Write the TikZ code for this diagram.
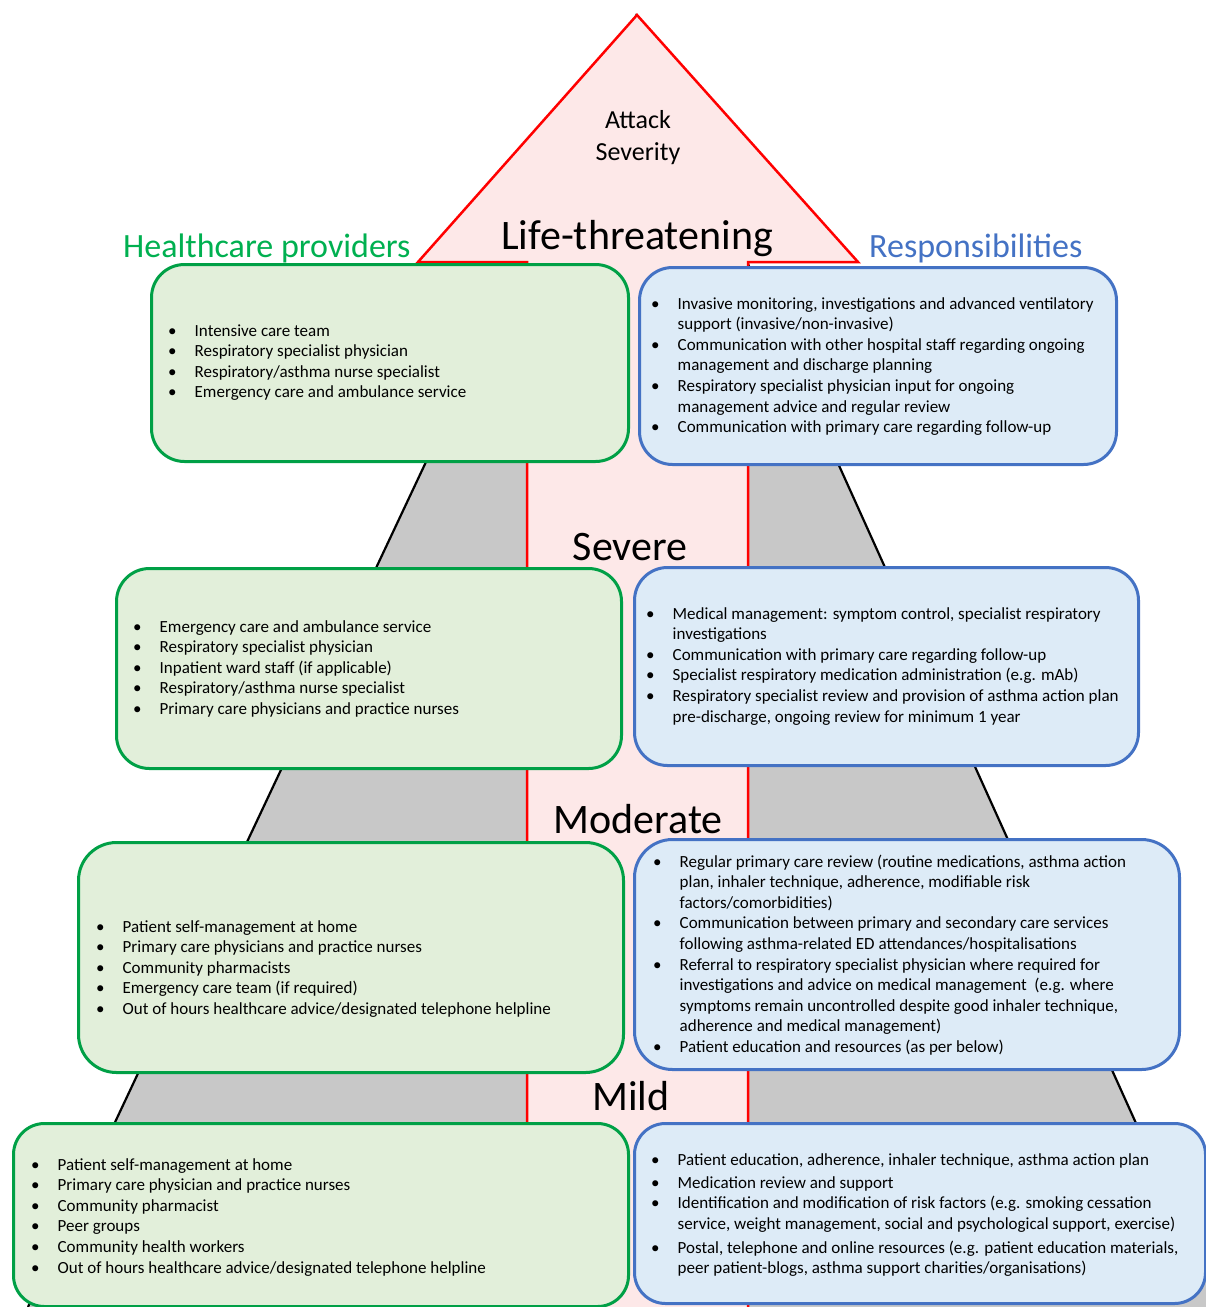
\documentclass[tikz,border=0pt]{standalone}
\usepackage{fontspec}
\setmainfont{Carlito}
\definecolor{pinkbg}{RGB}{253,232,232}
\definecolor{greybg}{RGB}{200,200,200}
\definecolor{provgreen}{RGB}{0,160,70}
\definecolor{provfill}{RGB}{226,239,218}
\definecolor{respblue}{RGB}{68,114,196}
\definecolor{respfill}{RGB}{221,235,247}
\definecolor{titlegreen}{RGB}{0,176,80}
\newcommand{\bul}{\makebox[26.5pt][l]{•}}
\tikzset{
  gbox/.style={draw=provgreen, fill=provfill, line width=3pt, inner sep=0pt, anchor=north west, rectangle},
  bbox/.style={draw=respblue, fill=respfill, line width=3pt, inner sep=0pt, anchor=north west, rectangle},
  txt/.style={font=\fontsize{17}{20.6}\selectfont, inner sep=0pt, anchor=base west},
  level/.style={font=\fontsize{42}{50}\selectfont, inner sep=0pt, anchor=base},
  head/.style={font=\fontsize{34}{40}\selectfont, inner sep=0pt, anchor=base west},
  redline/.style={draw=red, line width=2.5pt},
  pyr/.style={draw=black, line width=2.2pt}
}
\begin{document}
\begin{tikzpicture}[x=1pt,y=-1pt]
\useasboundingbox (0,0) rectangle (1206,1307);
\clip (0,0) rectangle (1206,1307);
% grey pyramid
\fill[greybg] (636,16) -- (28,1307) -- (1219,1307) -- cycle;
\draw[pyr] (28,1307) -- (636,16) -- (1219,1307);
% pink triangle and strip
\fill[pinkbg] (527,1310) -- (527,262) -- (418,262) -- (637,15) -- (858,262) -- (748,262) -- (748,1310) -- cycle;
\draw[redline] (527,1310) -- (527,262) -- (418,262) -- (637,15) -- (858,262) -- (748,262) -- (748,1310);
% headings
\node[inner sep=0pt, font=\fontsize{26}{31.5}\selectfont, align=center, anchor=base] (attack) at (638,160) {Attack\\Severity};
\node[level] (lt) at (637,249) {Life-threatening};
\node[level] (sev) at (630,560) {Severe};
\node[level] (mod) at (638,833) {Moderate};
\node[level] (mild) at (631,1110) {Mild};
\node[head, text=titlegreen] (hp) at (123,257) {Healthcare providers};
\node[head, text=respblue] (rs) at (869,257) {Responsibilities};
% boxes
\node[gbox, rounded corners=33pt, minimum width=477pt, minimum height=197pt] (g1) at (150,263) {};
\node[bbox, rounded corners=33pt, minimum width=477pt, minimum height=197pt] (b1) at (638,266) {};
\node[gbox, rounded corners=33pt, minimum width=505pt, minimum height=200pt] (g2) at (115,567) {};
\node[bbox, rounded corners=33pt, minimum width=504pt, minimum height=198pt] (b2) at (633,566) {};
\node[gbox, rounded corners=38pt, minimum width=545pt, minimum height=230pt] (g3) at (77,841) {};
\node[bbox, rounded corners=38pt, minimum width=545pt, minimum height=230pt] (b3) at (633,838) {};
\node[gbox, rounded corners=31pt, minimum width=615pt, minimum height=183pt] (g4) at (12,1122) {};
\node[bbox, rounded corners=31pt, minimum width=571pt, minimum height=180pt] (b4) at (633,1122) {};
% texts
\node[txt] (tg1) at (168,336) {\begin{tabular}[t]{@{}l@{}}
\bul Intensive care team\\
\bul Respiratory specialist physician\\
\bul Respiratory/asthma nurse specialist\\
\bul Emergency care and ambulance service
\end{tabular}};
\node[txt] (tb1) at (651,309) {\begin{tabular}[t]{@{}l@{}}
\bul Invasive monitoring, investigations and advanced ventilatory\\
\hspace*{26.5pt}support (invasive/non-invasive)\\
\bul Communication with other hospital staff regarding ongoing\\
\hspace*{26.5pt}management and discharge planning\\
\bul Respiratory specialist physician input for ongoing\\
\hspace*{26.5pt}management advice and regular review\\
\bul Communication with primary care regarding follow-up
\end{tabular}};
\node[txt] (tg2) at (133,632) {\begin{tabular}[t]{@{}l@{}}
\bul Emergency care and ambulance service\\
\bul Respiratory specialist physician\\
\bul Inpatient ward staff (if applicable)\\
\bul Respiratory/asthma nurse specialist\\
\bul Primary care physicians and practice nurses
\end{tabular}};
\node[txt] (tb2) at (646,619) {\begin{tabular}[t]{@{}l@{}}
\bul Medical management: symptom control, specialist respiratory\\
\hspace*{26.5pt}investigations\\
\bul Communication with primary care regarding follow-up\\
\bul Specialist respiratory medication administration (e.g. mAb)\\
\bul Respiratory specialist review and provision of asthma action plan\\
\hspace*{26.5pt}pre-discharge, ongoing review for minimum 1 year
\end{tabular}};
\node[txt] (tg3) at (96,932) {\begin{tabular}[t]{@{}l@{}}
\bul Patient self-management at home\\
\bul Primary care physicians and practice nurses\\
\bul Community pharmacists\\
\bul Emergency care team (if required)\\
\bul Out of hours healthcare advice/designated telephone helpline
\end{tabular}};
\node[txt] (tb3) at (653,867) {\begin{tabular}[t]{@{}l@{}}
\bul Regular primary care review (routine medications, asthma action\\
\hspace*{26.5pt}plan, inhaler technique, adherence, modifiable risk\\
\hspace*{26.5pt}factors/comorbidities)\\
\bul Communication between primary and secondary care services\\
\hspace*{26.5pt}following asthma-related ED attendances/hospitalisations\\
\bul Referral to respiratory specialist physician where required for\\
\hspace*{26.5pt}investigations and advice on medical management\ \ (e.g. where\\
\hspace*{26.5pt}symptoms remain uncontrolled despite good inhaler technique,\\
\hspace*{26.5pt}adherence and medical management)\\
\bul Patient education and resources (as per below)
\end{tabular}};
\node[txt] (tg4) at (31,1170) {\begin{tabular}[t]{@{}l@{}}
\bul Patient self-management at home\\
\bul Primary care physician and practice nurses\\
\bul Community pharmacist\\
\bul Peer groups\\
\bul Community health workers\\
\bul Out of hours healthcare advice/designated telephone helpline
\end{tabular}};
\node[txt] (tb4) at (651,1165) {\begin{tabular}[t]{@{}l@{}}
\bul Patient education, adherence, inhaler technique, asthma action plan\\[2.4pt]
\bul Medication review and support\\
\bul Identification and modification of risk factors (e.g. smoking cessation\\
\hspace*{26.5pt}service, weight management, social and psychological support, exercise)\\[3.4pt]
\bul Postal, telephone and online resources (e.g. patient education materials,\\
\hspace*{26.5pt}peer patient-blogs, asthma support charities/organisations)
\end{tabular}};
\end{tikzpicture}
\end{document}
